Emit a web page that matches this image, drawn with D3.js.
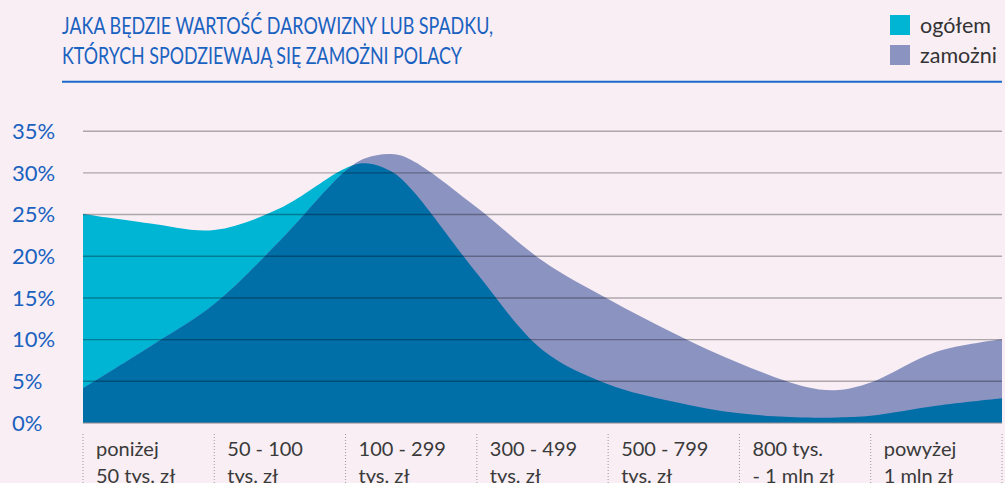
<!DOCTYPE html>
<html>
<head>
<meta charset="utf-8">
<script src="https://cdn.jsdelivr.net/npm/d3@7"></script>
<style>
  html, body { margin: 0; padding: 0; background: #f8eef4; }
  svg { display: block; }
</style>
</head>
<body>
<svg id="chart" width="1005" height="483"></svg>
<script>
// ---- data ----
const titleLines = ["JAKA BĘDZIE WARTOŚĆ DAROWIZNY LUB SPADKU,", "KTÓRYCH SPODZIEWAJĄ SIĘ ZAMOŻNI POLACY"];
const seriesNames = ["ogółem", "zamożni"];
const categories = [
  ["poniżej", "50 tys. zł"],
  ["50 - 100", "tys. zł"],
  ["100 - 299", "tys. zł"],
  ["300 - 499", "tys. zł"],
  ["500 - 799", "tys. zł"],
  ["800 tys.", "- 1 mln zł"],
  ["powyżej", "1 mln zł"]
];
// curve knots along the category axis (in category units, 0 = left edge, 7 = right edge)
const knotPositions = [0, 0.5, 1, 1.5, 2, 2.15, 2.35, 2.5, 3, 3.5, 4, 4.5, 5, 5.5, 5.75, 6, 6.5, 7];
const ogolem  = [25.0, 23.9, 23.1, 25.7, 30.5, 31.1, 30.1, 28.0, 17.9, 8.7, 4.6, 2.5, 1.1, 0.6, 0.6, 0.8, 2.0, 2.9];
const zamozni = [4.1, 9.0, 14.2, 21.8, 30.2, 31.7, 32.2, 31.5, 25.8, 19.4, 14.8, 10.7, 7.1, 4.3, 3.9, 4.8, 8.5, 10.0];
const yTicks = [0, 5, 10, 15, 20, 25, 30, 35];

// ---- layout ----
const svg = d3.select("#chart");
const W = 1005, H = 483;
const plot = { left: 83, right: 1002, top: 130.7, bottom: 422.5 };
const blue = "#1a62c0";
const cCyan = "#00b4d4", cLav = "#8b93c1", cDark = "#006ea7";
const font = "Lato, 'Open Sans', sans-serif";

svg.append("rect").attr("width", W).attr("height", H).attr("fill", "#f8eef4");

const x = d3.scaleLinear().domain([0, categories.length]).range([plot.left, plot.right]);
const y = d3.scaleLinear().domain([0, 35]).range([plot.bottom, plot.top]);

// title
titleLines.forEach((t, i) => {
  svg.append("text")
    .attr("x", 62).attr("y", 33.5 + i * 30.7)
    .attr("font-family", font)
    .attr("font-size", 23.5)
    .attr("fill", blue)
    .attr("textLength", i === 0 ? 431 : 400)
    .attr("lengthAdjust", "spacingAndGlyphs")
    .text(t);
});
svg.append("line").attr("x1", 62).attr("x2", 1002).attr("y1", 81.7).attr("y2", 81.7)
  .attr("stroke", "#1b6ac9").attr("stroke-width", 2);

// legend
const legColors = [cCyan, cLav];
seriesNames.forEach((n, i) => {
  svg.append("rect").attr("x", 890).attr("y", 15 + i * 30).attr("width", 20).attr("height", 20)
    .attr("fill", legColors[i]);
  svg.append("text").attr("x", 920).attr("y", 32.5 + i * 30)
    .attr("font-family", font).attr("font-size", 21.5)
    .attr("fill", "#333").text(n);
});

// areas
const ptsO = knotPositions.map((p, i) => [p, ogolem[i]]);
const ptsZ = knotPositions.map((p, i) => [p, zamozni[i]]);
const area = d3.area().x(d => x(d[0])).y0(y(0)).y1(d => y(d[1])).curve(d3.curveCatmullRom.alpha(0.5));

const defs = svg.append("defs");
defs.append("clipPath").attr("id", "clipZ").append("path").attr("d", area(ptsZ));

svg.append("path").attr("d", area(ptsO)).attr("fill", cCyan);
svg.append("path").attr("d", area(ptsZ)).attr("fill", cLav);
svg.append("path").attr("d", area(ptsO)).attr("fill", cDark).attr("clip-path", "url(#clipZ)");

// gridlines (over areas) and y labels
const yAxis = d3.axisLeft(y).tickValues(yTicks).tickSize(-(plot.right - plot.left)).tickFormat(d => d + "%");
const gy = svg.append("g").attr("transform", `translate(${plot.left},0)`).call(yAxis);
gy.select(".domain").remove();
gy.selectAll(".tick line").attr("stroke", "#000").attr("stroke-opacity", 0.3).attr("stroke-width", 1.4);
gy.selectAll(".tick text")
  .attr("x", 12 - plot.left).attr("text-anchor", "start").attr("dy", "0.35em")
  .attr("font-family", font).attr("font-size", 22)
  .attr("fill", blue);

// category separators and labels
const seps = d3.range(categories.length + 1);
svg.selectAll(".sep").data(seps).join("line")
  .attr("x1", d => x(d)).attr("x2", d => x(d))
  .attr("y1", 434).attr("y2", H)
  .attr("stroke", "#999").attr("stroke-width", 1).attr("stroke-dasharray", "1,2");

categories.forEach((c, i) => {
  const t = svg.append("text")
    .attr("font-family", font).attr("font-size", 20)
    .attr("fill", "#3a3a3a");
  c.forEach((line, j) => {
    t.append("tspan").attr("x", x(i) + 13).attr("y", 456 + j * 27).text(line);
  });
});
</script>
</body>
</html>
